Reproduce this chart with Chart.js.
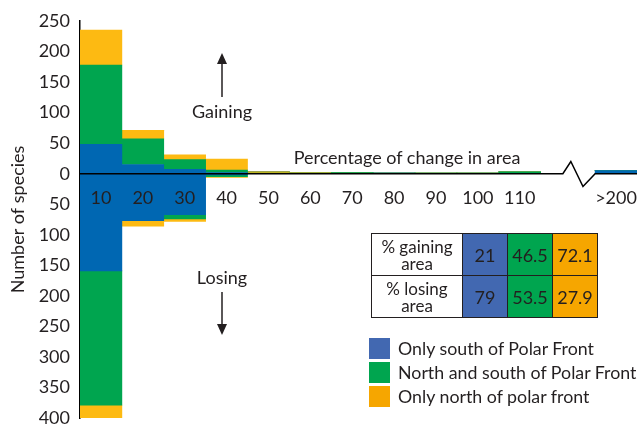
<!DOCTYPE html>
<html>
<head>
<meta charset="utf-8">
<script src="https://cdn.jsdelivr.net/npm/chart.js@4.4.0/dist/chart.umd.min.js"></script>
<style>
    html, body { margin: 0; padding: 0; background: #fff; }
    #wrap { position: relative; width: 638px; height: 424px; font-family: Lato, sans-serif; color: #231f20; }
    #chart { position: absolute; left: 0; top: 0; }
    .note { position: absolute; font-size: 18px; white-space: nowrap; transform: translate(-50%, -50%); }
    #arrows { position: absolute; left: 0; top: 0; }
    #pct { position: absolute; left: 371px; top: 233px; border-collapse: collapse; table-layout: fixed; }
    #pct td { border: 1.5px solid #231f20; padding: 0; height: 41px; text-align: center; font-size: 18px; }
    #pct td.lab { width: 90px; background: #fff; font-size: 17px; line-height: 17px; }
    #pct td.val { width: 44px; }
    #legend { position: absolute; left: 369px; top: 338px; }
    .row { position: relative; height: 24px; }
    .sw { position: absolute; left: 0; top: 0; width: 21px; height: 21px; }
    .txt { position: absolute; left: 29px; top: 0; font-size: 17.8px; line-height: 21px; white-space: nowrap; }
</style>
</head>
<body>
<div id="wrap">
    <canvas id="chart" width="638" height="424"></canvas>
    <svg id="arrows" width="638" height="424">
        <line x1="222" y1="97" x2="222" y2="62" stroke="#231f20" stroke-width="1.5"/>
        <polygon points="222,53 217,64 227,64" fill="#231f20"/>
        <line x1="222" y1="292" x2="222" y2="326" stroke="#231f20" stroke-width="1.5"/>
        <polygon points="222,335 217,324 227,324" fill="#231f20"/>
    </svg>
    <div class="note" style="left:222px; top:111px;">Gaining</div>
    <div class="note" style="left:222px; top:277px;">Losing</div>
    <div class="note" style="left:407px; top:157px;">Percentage of change in area</div>
    <table id="pct"></table>
    <div id="legend"></div>
</div>

<script>
// bins (percentage of change in area)
const bins = ['10', '20', '30', '40', '50', '60', '70', '80', '90', '100', '110', '>200'];

// number of species gaining area
const gainSouth = [48, 15, 7, 2, 0, 0, 0, 1, 0, 0, 0, 5];
const gainBoth  = [130, 42, 16, 4, 1, 1, 2, 0, 1, 1, 3, 0];
const gainNorth = [57, 14, 8, 18, 2, 1, 0, 0, 0, 0, 0, 0];

// number of species losing area
const loseSouth = [159, 77, 67, 2, 0, 0, 0, 0, 0, 0, 0, 0];
const loseBoth  = [220, 0, 7, 3, 0, 0, 0, 0, 0, 0, 0, 0];
const loseNorth = [21, 9, 4, 1, 0, 0, 0, 0, 0, 0, 0, 0];

const yMin = -400, yMax = 250, yStep = 50;

// table + legend
const tableRows = ['% gaining<br>area', '% losing<br>area'];
const gainPct = [21, 46.5, 72.1];
const losePct = [79, 53.5, 27.9];
const groups = ['Only south of Polar Front', 'North and south of Polar Front', 'Only north of polar front'];

const barColors = ['#0067b2', '#00a54f', '#fdba12'];
const boxColors = ['#4268b1', '#00a54f', '#f6a600'];

// axis break between 110 and >200
const breakGap = 1.3;
const binPos = bins.map((b, i) => i < 11 ? i + 0.5 : i + breakGap + 0.5);
const xMax = binPos[binPos.length - 1] + 0.5;

function ds(vals, color, sign) {
    return {
        data: binPos.map((p, i) => ({ x: p, y: sign * vals[i] })),
        backgroundColor: color,
        borderWidth: 0,
        barPercentage: 1,
        categoryPercentage: 1
    };
}

// zero line with the zigzag break, and bin labels just under it
const zeroAxis = {
    id: 'zeroAxis',
    afterDatasetsDraw(chart) {
        const { ctx, chartArea, scales: { x, y } } = chart;
        const y0 = y.getPixelForValue(0);
        ctx.save();
        ctx.strokeStyle = '#000';
        ctx.lineWidth = 1.5;
        ctx.beginPath();
        ctx.moveTo(chartArea.left, y0);
        ctx.lineTo(x.getPixelForValue(11.53), y0);
        ctx.lineTo(x.getPixelForValue(11.72), y.getPixelForValue(20));
        ctx.lineTo(x.getPixelForValue(12.01), y.getPixelForValue(-21));
        ctx.lineTo(x.getPixelForValue(12.3), y0);
        ctx.lineTo(chartArea.right, y0);
        ctx.stroke();

        ctx.fillStyle = '#231f20';
        ctx.font = '18px Lato';
        ctx.textAlign = 'center';
        ctx.textBaseline = 'middle';
        bins.forEach((b, i) => ctx.fillText(b, x.getPixelForValue(binPos[i]), y0 + 24));
        ctx.restore();
    }
};

new Chart(document.getElementById('chart'), {
    type: 'bar',
    data: {
        datasets: [
            ds(gainSouth, barColors[0], 1),
            ds(gainBoth, barColors[1], 1),
            ds(gainNorth, barColors[2], 1),
            ds(loseSouth, barColors[0], -1),
            ds(loseBoth, barColors[1], -1),
            ds(loseNorth, barColors[2], -1)
        ]
    },
    options: {
        responsive: false,
        animation: false,
        layout: { padding: { top: 21, bottom: 6, left: 0, right: 1 } },
        plugins: { legend: { display: false }, tooltip: { enabled: false } },
        scales: {
            x: {
                type: 'linear',
                display: false,
                stacked: true,
                offset: false,
                min: 0,
                max: xMax,
                afterBuildTicks: (scale) => { scale.ticks = binPos.map(v => ({ value: v })); }
            },
            y: {
                stacked: true,
                min: yMin,
                max: yMax,
                grid: { display: false, drawTicks: false },
                border: { display: true, color: '#000', width: 1.5 },
                ticks: {
                    stepSize: yStep,
                    padding: 10,
                    color: '#231f20',
                    font: { family: 'Lato', size: 18 },
                    callback: (v) => Math.abs(v)
                },
                title: {
                    display: true,
                    text: 'Number of species',
                    color: '#231f20',
                    font: { family: 'Lato', size: 18 },
                    padding: { top: 7, bottom: 0 }
                },
                afterFit: (scale) => {
                    scale.width = 80;
                    scale.paddingTop = 0;
                    scale.paddingBottom = 0;
                }
            }
        }
    },
    plugins: [zeroAxis]
});

// table
const pct = document.getElementById('pct');
[gainPct, losePct].forEach((vals, r) => {
    let html = '<tr><td class="lab">' + tableRows[r] + '</td>';
    vals.forEach((v, i) => {
        html += '<td class="val" style="background:' + boxColors[i] + '">' + v + '</td>';
    });
    pct.insertAdjacentHTML('beforeend', html + '</tr>');
});

// legend
const legend = document.getElementById('legend');
groups.forEach((g, i) => {
    legend.insertAdjacentHTML('beforeend',
        '<div class="row"><div class="sw" style="background:' + boxColors[i] + '"></div><div class="txt">' + g + '</div></div>');
});
</script>
</body>
</html>
